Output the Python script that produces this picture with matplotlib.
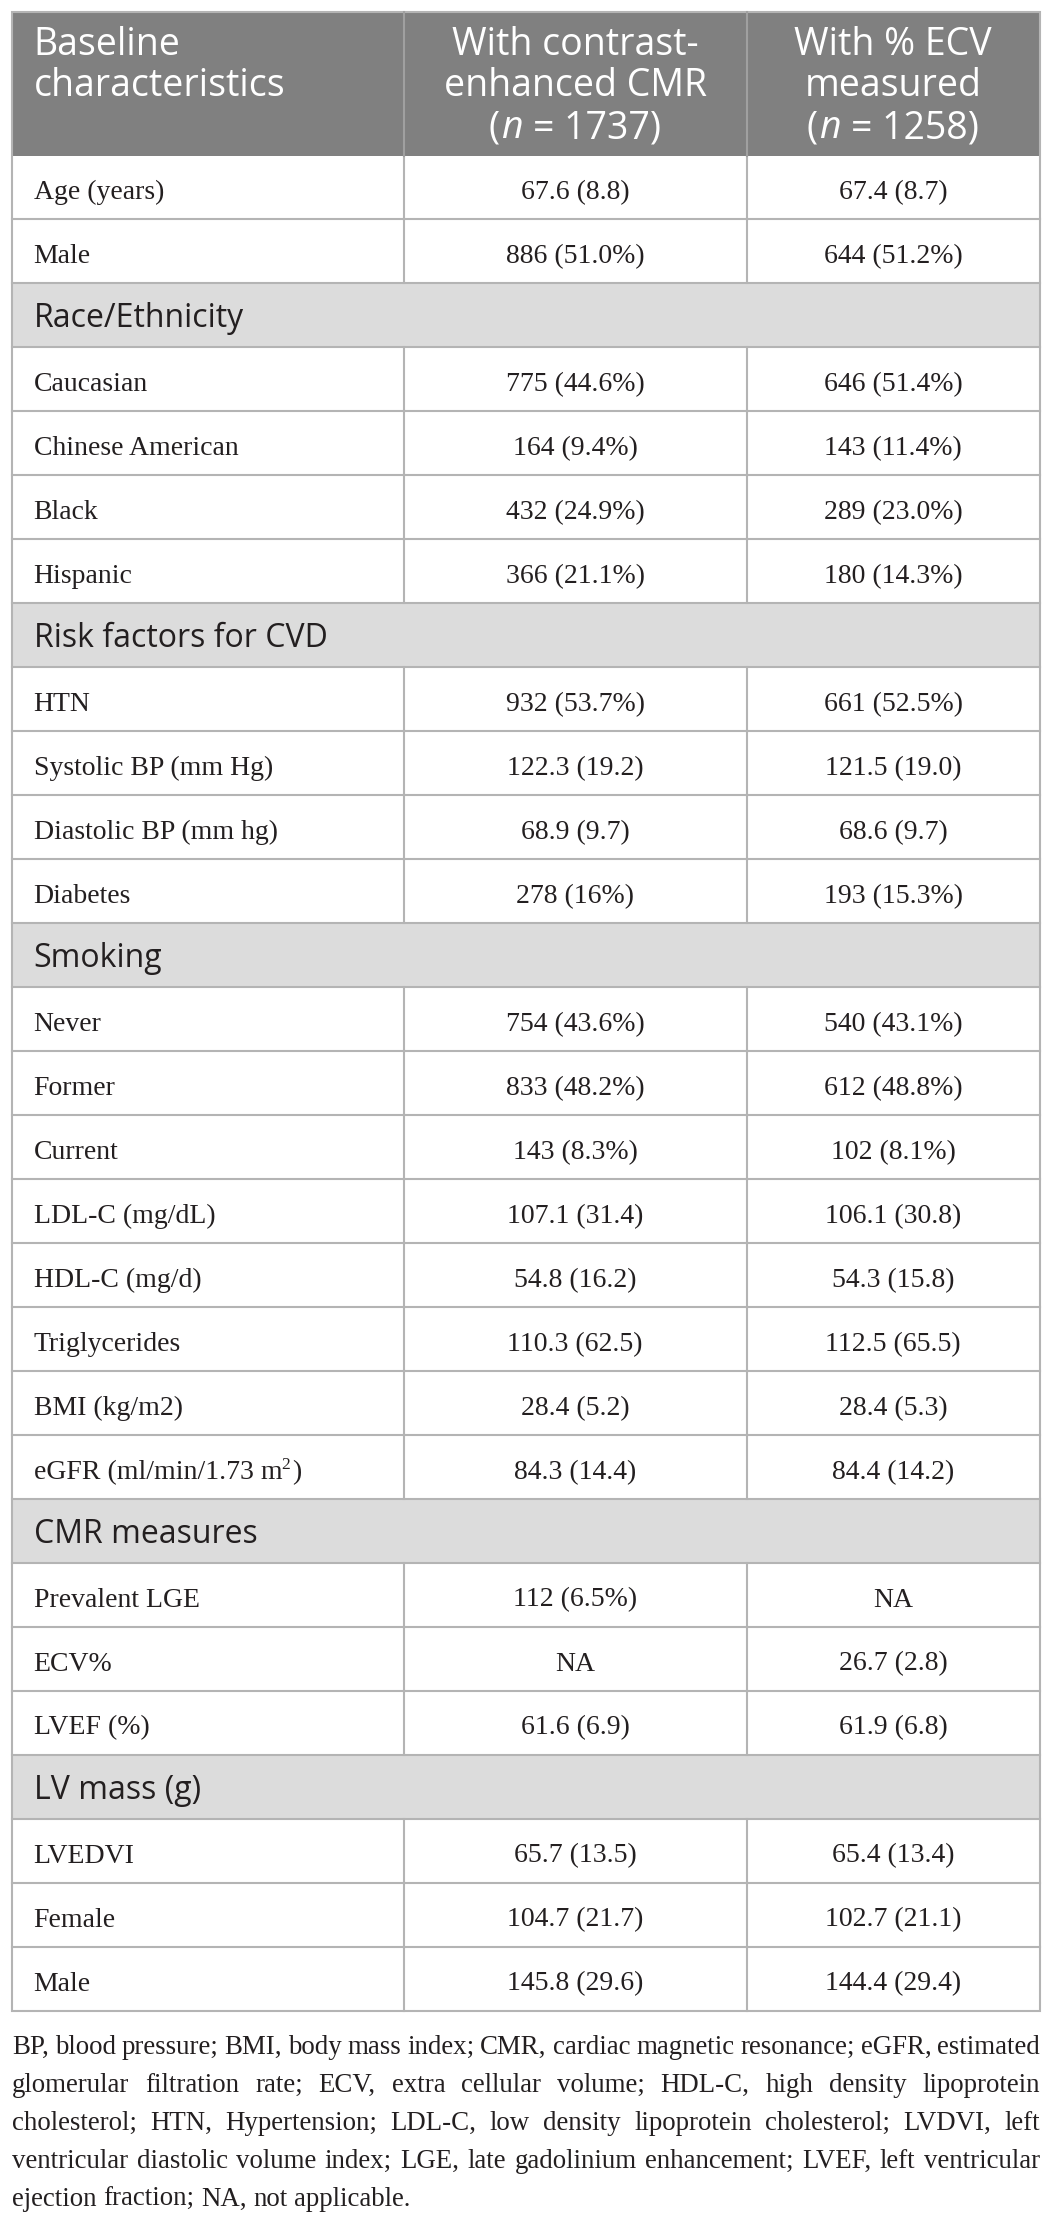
import matplotlib
matplotlib.use('Agg')
import matplotlib.pyplot as plt
from matplotlib.patches import Rectangle

# table content
header_first = ["Baseline", "characteristics"]
header_cols = [["With contrast-", "enhanced CMR", "(n = 1737)"],
               ["With % ECV", "measured", "(n = 1258)"]]

row_labels = ["Age (years)", "Male", "Race/Ethnicity", "Caucasian", "Chinese American",
              "Black", "Hispanic", "Risk factors for CVD", "HTN", "Systolic BP (mm Hg)",
              "Diastolic BP (mm hg)", "Diabetes", "Smoking", "Never", "Former", "Current",
              "LDL-C (mg/dL)", "HDL-C (mg/d)", "Triglycerides", "BMI (kg/m2)",
              "eGFR (ml/min/1.73 m²)", "CMR measures", "Prevalent LGE", "ECV%", "LVEF (%)",
              "LV mass (g)", "LVEDVI", "Female", "Male"]
contrast_vals = ["67.6 (8.8)", "886 (51.0%)", None, "775 (44.6%)", "164 (9.4%)",
                 "432 (24.9%)", "366 (21.1%)", None, "932 (53.7%)", "122.3 (19.2)",
                 "68.9 (9.7)", "278 (16%)", None, "754 (43.6%)", "833 (48.2%)", "143 (8.3%)",
                 "107.1 (31.4)", "54.8 (16.2)", "110.3 (62.5)", "28.4 (5.2)", "84.3 (14.4)",
                 None, "112 (6.5%)", "NA", "61.6 (6.9)", None, "65.7 (13.5)", "104.7 (21.7)",
                 "145.8 (29.6)"]
ecv_vals = ["67.4 (8.7)", "644 (51.2%)", None, "646 (51.4%)", "143 (11.4%)",
            "289 (23.0%)", "180 (14.3%)", None, "661 (52.5%)", "121.5 (19.0)",
            "68.6 (9.7)", "193 (15.3%)", None, "540 (43.1%)", "612 (48.8%)", "102 (8.1%)",
            "106.1 (30.8)", "54.3 (15.8)", "112.5 (65.5)", "28.4 (5.3)", "84.4 (14.2)",
            None, "NA", "26.7 (2.8)", "61.9 (6.8)", None, "65.4 (13.4)", "102.7 (21.1)",
            "144.4 (29.4)"]

footnote_lines = [
    "BP, blood pressure; BMI, body mass index; CMR, cardiac magnetic resonance; eGFR, estimated",
    "glomerular filtration rate; ECV, extra cellular volume; HDL-C, high density lipoprotein",
    "cholesterol; HTN, Hypertension; LDL-C, low density lipoprotein cholesterol; LVDVI, left",
    "ventricular diastolic volume index; LGE, late gadolinium enhancement; LVEF, left ventricular",
    "ejection fraction; NA, not applicable.",
]

# look
W, H = 1051, 2219
head_bg = '#808080'
group_bg = '#dcdcdc'
line_col = '#b4b4b4'
ink = '#231f20'
serif = dict(family='Liberation Serif', size=20, color=ink)
note_font = dict(family='Liberation Serif', size=19.4, color=ink)
head_font = dict(family='Open Sans', size=27, color='white')
group_font = dict(family='Open Sans', size=23, color=ink)

x_left, x_c1, x_c2, x_right = 11.5, 403.5, 746.5, 1039.5
y_top, y_head, y_bot = 12, 155.5, 2011
n_rows = len(row_labels)
row_h = (y_bot - y_head) / n_rows
pad = 22

fig = plt.figure(figsize=(W / 100, H / 100), dpi=100)
ax = fig.add_axes([0, 0, 1, 1])
ax.set_xlim(0, W)
ax.set_ylim(H, 0)
ax.axis('off')
renderer = fig.canvas.get_renderer()


def text_w(s, **kw):
    t = ax.text(0, 0, s, **kw)
    w = t.get_window_extent(renderer).width
    t.remove()
    return w


def draw_runs(x, y, runs, ha='left'):
    # runs: (text, font kwargs, baseline shift, gap before)
    widths = [text_w(s, **kw) for s, kw, dy, g in runs]
    total = sum(widths) + sum(g for s, kw, dy, g in runs)
    if ha == 'center':
        x = x - total / 2
    for (s, kw, dy, g), w in zip(runs, widths):
        x += g
        ax.text(x, y - dy, s, ha='left', va='baseline', **kw)
        x += w


# header
ax.add_patch(Rectangle((x_left, y_top), x_right - x_left, y_head - y_top,
                       facecolor=head_bg, edgecolor='none'))
head_base = [55, 96, 138]
for k, line in enumerate(header_first):
    ax.text(x_left + pad, head_base[k], line, ha='left', va='baseline', **head_font)
col_centers = [(x_c1 + x_c2) / 2, (x_c2 + x_right) / 2]
sp_head = text_w("a a", **head_font) - text_w("aa", **head_font)
for cx, lines in zip(col_centers, header_cols):
    for k, line in enumerate(lines):
        if line.startswith("(n"):
            ital = dict(head_font, style='italic')
            draw_runs(cx, head_base[k], [("(", head_font, 0, 0), ("n", ital, 0, 1),
                                         (line[3:], head_font, 0, sp_head + 1)], ha='center')
        else:
            ax.text(cx, head_base[k], line, ha='center', va='baseline', **head_font)

# body rows
for i, lab in enumerate(row_labels):
    top = y_head + i * row_h
    base = top + row_h / 2 + 11.5
    if contrast_vals[i] is None:
        ax.add_patch(Rectangle((x_left, top), x_right - x_left, row_h,
                               facecolor=group_bg, edgecolor='none'))
        ax.text(x_left + pad, base, lab, ha='left', va='baseline', **group_font)
        continue
    ax.plot([x_c1, x_c1], [top, top + row_h], color=line_col, lw=1.5)
    ax.plot([x_c2, x_c2], [top, top + row_h], color=line_col, lw=1.5)
    if '²' in lab:
        sup = dict(serif, size=12.5)
        draw_runs(x_left + pad, base, [(lab.replace('²)', ''), serif, 0, 0),
                                       ("2", sup, 10, -1), (")", serif, 0, 2)])
    else:
        ax.text(x_left + pad, base, lab, ha='left', va='baseline', **serif)
    ax.text(col_centers[0], base, contrast_vals[i], ha='center', va='baseline', **serif)
    ax.text(col_centers[1], base, ecv_vals[i], ha='center', va='baseline', **serif)

# grid lines
ax.plot([x_c1, x_c1], [y_top, y_head], color='#a0a0a0', lw=1.5)
ax.plot([x_c2, x_c2], [y_top, y_head], color='#a0a0a0', lw=1.5)
for i in range(1, n_rows):
    y = y_head + i * row_h
    ax.plot([x_left, x_right], [y, y], color=line_col, lw=1.5)
ax.add_patch(Rectangle((x_left, y_top), x_right - x_left, y_bot - y_top,
                       facecolor='none', edgecolor=line_col, lw=1.5))

# footnote, justified
note_left, note_right = 12, 1040
note_base = [2054, 2092, 2130, 2168, 2206]
sp_note = text_w("a a", **note_font) - text_w("aa", **note_font)
for k, line in enumerate(footnote_lines):
    words = line.split(' ')
    widths = [text_w(wd, **note_font) for wd in words]
    if k < len(footnote_lines) - 1:
        gap = (note_right - note_left - sum(widths)) / (len(words) - 1)
    else:
        gap = sp_note
    x = note_left
    for wd, w in zip(words, widths):
        ax.text(x, note_base[k], wd, ha='left', va='baseline', **note_font)
        x += w + gap

fig.savefig('out.png', dpi=100, facecolor='white')
